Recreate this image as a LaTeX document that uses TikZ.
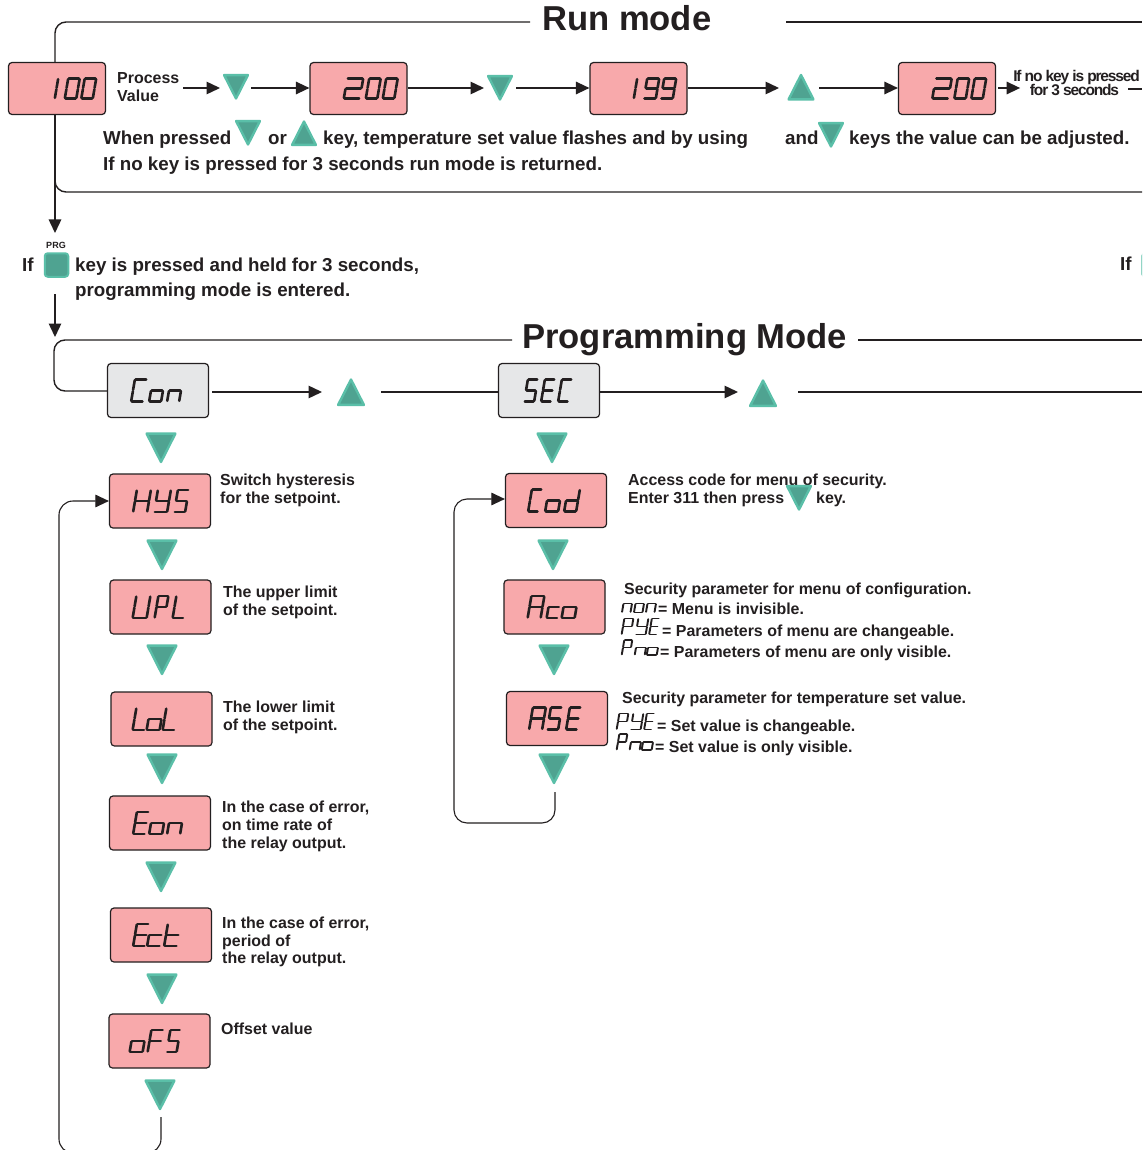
\documentclass[tikz,border=0pt]{standalone}
\usepackage{fontspec}
\setmainfont{Liberation Sans}
\usetikzlibrary{arrows.meta}
\definecolor{ink}{HTML}{231F20}
\definecolor{lcdpink}{HTML}{F8A9AB}
\definecolor{lcdgrey}{HTML}{E6E7E8}
\definecolor{keyfill}{HTML}{4FA391}
\definecolor{keyedge}{HTML}{5ABFA8}
% --- seven segment glyphs -------------------------------------------------
\def\sga{\draw[segline] (0,-\lcdH) -- (\lcdW,-\lcdH);}
\def\sgb{\draw[segline] (\lcdW,-\lcdH) -- (\lcdW,0);}
\def\sgc{\draw[segline] (\lcdW,0) -- (\lcdW,\lcdH);}
\def\sgd{\draw[segline] (0,\lcdH) -- (\lcdW,\lcdH);}
\def\sge{\draw[segline] (0,0) -- (0,\lcdH);}
\def\sgf{\draw[segline] (0,-\lcdH) -- (0,0);}
\def\sgg{\draw[segline] (0,0) -- (\lcdW,0);}
\def\segloop#1{\ifx#1\relax\else\csname sg#1\endcsname\expandafter\segloop\fi}
% \lcdword{anchor}{half height}{x/width/segments,...}
\newcommand\lcdword[3]{%
  \def\lcdH{#2}%
  \foreach \gx/\gw/\gs in {#3}{%
    \begin{scope}[shift={#1},shift={(\gx,0)},xslant=.17]
      \let\lcdW\gw
      \expandafter\segloop\gs\relax
    \end{scope}}}
\tikzset{
  segline/.style={line width=2.6pt,line cap=round,draw=ink,shorten >=.7pt,shorten <=.7pt},
  link/.style={draw=ink,line width=1.4pt},
  arr/.style={link,-{Triangle[length=13.5pt,width=12.5pt]}},
  lcdbox/.style={draw=ink,line width=1.2pt,rounded corners=3.5pt,fill=lcdpink,inner sep=0pt,
    minimum width=#1,text opacity=0,font=\fontsize{14}{14}\selectfont},
  runbox/.style={lcdbox=97pt,minimum height=52pt},
  probox/.style={lcdbox=101pt,minimum height=54pt},
  menubox/.style={probox,fill=lcdgrey},
  keybase/.style={minimum width=#1,minimum height=#1,inner sep=0pt},
  keyline/.style={fill=keyfill,draw=keyedge,line width=2.4pt,line join=round},
  keydown/.style={keybase=#1,path picture={
    \draw[keyline] ([xshift=1.6pt,yshift=-1.6pt]path picture bounding box.north west)
      -- ([xshift=-1.6pt,yshift=-1.6pt]path picture bounding box.north east)
      -- ([yshift=2pt]path picture bounding box.south) -- cycle;}},
  keyup/.style={keybase=#1,path picture={
    \draw[keyline] ([xshift=1.6pt,yshift=1.6pt]path picture bounding box.south west)
      -- ([xshift=-1.6pt,yshift=1.6pt]path picture bounding box.south east)
      -- ([yshift=-2pt]path picture bounding box.north) -- cycle;}},
  txt/.style={inner sep=0pt,anchor=base west,text=ink,font=\fontsize{18.75}{18.75}\selectfont\bfseries},
  lab/.style={txt,font=\fontsize{15.95}{15.95}\selectfont\bfseries},
  tight/.style={inner sep=0pt,anchor=base,text=ink,font=\fontsize{15.5}{15.5}\addfontfeature{LetterSpace=-7.5}\bfseries},
  title/.style={txt,font=\fontsize{34.6}{34.6}\selectfont\bfseries},
}
\begin{document}
\begin{tikzpicture}[x=1pt,y=-1pt]
\clip (0,0) rectangle (1142,1150);
\fill[white] (0,0) rectangle (1142,1150);

% ---------- Run mode row
\coordinate (rowR) at (0,88);
\node[runbox] (pv) at (57,88.5) {100};
\node[runbox] (s1) at (358.5,88.5) {200};
\node[runbox] (s2) at (638.5,88.5) {199};
\node[runbox] (s3) at (947,88.5) {200};
\node[lab,align=left,anchor=west] (pvt) at (117,87) {Process\\[2.5pt]Value};
\node[keydown=27pt] (k1) at (236,87) {};
\node[keydown=27pt] (k2) at (500,88) {};
\node[keyup=28pt] (k3) at (801,87) {};
\node[tight] (noa) at (1076.5,82) {If no key is pressed};
\node[tight] (nob) at (1074.5,96) {for 3 seconds};
\coordinate (rmgapL) at (530,22);
\coordinate (rmgapR) at (786,22);
\coordinate (edgeT) at (1142,22);
\coordinate (edgeB) at (1142,192);
\coordinate (arrA) at (183,88);
\coordinate (arrAe) at (220,88);
\coordinate (arrNo) at (1128,89);
\coordinate (arrNoE) at (1142,89);
\node[title] (rm) at (542,31) {Run mode};
\draw[link,rounded corners=11pt] (55,62) -- (55,22) -- (rmgapL);
\draw[link] (rmgapR) -- (edgeT);
\draw[link,rounded corners=11pt] (55,160) -- (55,192) -- (edgeB);
\draw[arr] (arrA) -- (arrAe);
\draw[arr] ([xshift=15pt]k1.center |- rowR) -- (s1.west |- rowR);
\draw[arr] (s1.east |- rowR) -- ([xshift=-16pt]k2.center |- rowR);
\draw[arr] ([xshift=16pt]k2.center |- rowR) -- (s2.west |- rowR);
\draw[arr] (s2.east |- rowR) -- ([xshift=-22pt]k3.center |- rowR);
\draw[arr] ([xshift=18pt]k3.center |- rowR) -- (s3.west |- rowR);
\draw[arr] ([xshift=2pt]s3.east |- rowR) -- ([xshift=24pt]s3.east |- rowR);
\draw[link] (arrNo) -- (arrNoE);

% ---------- run mode text
\node[txt] (t1a) at (103,145) {When pressed};
\node[keydown=27pt] (k4) at (248,133) {};
\node[txt] (t1b) at (268,145) {or};
\node[keyup=27pt] (k5) at (304,133) {};
\node[txt] (t1c) at (323,145) {key, temperature set value flashes and by using};
\node[txt] (t1d) at (785,145) {and};
\node[keydown=27pt] (k6) at (831,135) {};
\node[txt] (t1e) at (849,145) {keys the value can be adjusted.};
\node[txt] (t2) at (103,171) {If no key is pressed for 3 seconds run mode is returned.};

% ---------- PRG key
\node[inner sep=0pt,text=ink,font=\fontsize{9}{9}\selectfont\bfseries] (prg) at (56,245.5) {PRG};
\node[rounded corners=3pt,fill=keyfill,draw=keyedge,line width=2pt,minimum size=23.5pt,inner sep=0pt] (prgk) at (56.5,265) {};
\node[txt] (ifa) at (22,271) {If};
\node[txt] (p1) at (75,271) {key is pressed and held for 3 seconds,};
\node[txt] (p2) at (75,296) {programming mode is entered.};
\node[txt] (ifb) at (1120,270) {If};
\node[rounded corners=3pt,fill=keyfill,draw=keyedge,line width=2pt,minimum size=23.5pt,inner sep=0pt] (prgk2) at (1154,265) {};
\draw[arr] (pv.south -| 55,0) -- (55,233);
\draw[arr] (55,294) -- (55,337);

% ---------- Programming mode header
\coordinate (rowP) at (0,392);
\node[title] (pm) at (522,348) {Programming Mode};
\node[menubox] (con) at (158,390.5) {Con};
\node[menubox] (sec) at (549,390.5) {SEC};
\node[keyup=29pt] (u1) at (351,392) {};
\node[keyup=29pt] (u2) at (763,393) {};
\coordinate (pmL) at (512,340);
\coordinate (pmR) at (858,340);
\coordinate (pmE) at (1142,340);
\coordinate (conE) at (1142,392);
\draw[link] (pmR) -- (pmE);
\draw[link,rounded corners=11pt] (pmL) -- (54,340) -- (54,391) -- (con.west |- 0,391);
\draw[arr] ([xshift=3pt]con.east |- rowP) -- ([xshift=-29pt]u1.center |- rowP);
\draw[link] ([xshift=30pt]u1.center |- rowP) -- (sec.west |- rowP);
\draw[arr] (sec.east |- rowP) -- ([xshift=-25pt]u2.center |- rowP);
\draw[link] ([xshift=35pt]u2.center |- rowP) -- (conE);

% ---------- first column
\node[probox] (hys) at (160,501) {HYS};
\node[probox] (upl) at (160.5,607) {UPL};
\node[probox] (lol) at (161.5,719) {LoL};
\node[probox] (eon) at (160,823) {Eon};
\node[probox] (ect) at (161,935) {Ect};
\node[probox] (ofs) at (159.5,1041) {oFS};
\node[keydown=32pt] (d0) at (161,448) {};
\node[keydown=32pt] (d1) at (162,555) {};
\node[keydown=32pt] (d2) at (162,660) {};
\node[keydown=32pt] (d3) at (162,769) {};
\node[keydown=32pt] (d4) at (161,877) {};
\node[keydown=32pt] (d5) at (162,989) {};
\node[keydown=32pt] (d6) at (160,1095) {};
\draw[link,line width=1.1pt,rounded corners=14pt,-{Triangle[length=13.5pt,width=12.5pt]}]
  ([xshift=1pt,yshift=-6pt]d6.south) -- (161,1153) -- (59,1153) -- (59,501) -- (hys.west);
\node[lab] at (220,485) {Switch hysteresis};
\node[lab] at (220,503) {for the setpoint.};
\node[lab] at (223,597) {The upper limit};
\node[lab] at (223,615) {of the setpoint.};
\node[lab] at (223,712) {The lower limit};
\node[lab] at (223,730) {of the setpoint.};
\node[lab] at (222,812) {In the case of error,};
\node[lab] at (222,830) {on time rate of};
\node[lab] at (222,848) {the relay output.};
\node[lab] at (222,928) {In the case of error,};
\node[lab] at (222,946) {period of};
\node[lab] at (222,963) {the relay output.};
\node[lab] at (221,1034) {Offset value};

% ---------- second column
\node[probox] (cod) at (556,500.5) {Cod};
\node[probox] (aco) at (554.5,607) {Aco};
\node[probox] (ase) at (557,718.5) {ASE};
\node[keydown=32pt] (e0) at (552,448) {};
\node[keydown=32pt] (e1) at (553,555) {};
\node[keydown=32pt] (e2) at (554,660) {};
\node[keydown=32pt] (e3) at (554,769) {};
\draw[link,line width=1.1pt,rounded corners=13pt,-{Triangle[length=13.5pt,width=12.5pt]}]
  ([xshift=1pt,yshift=-7pt]e3.south) -- (555,823) -- (454,823) -- (454,499) -- (cod.west |- 0,499);
\node[lab] at (628,485) {Access code for menu of security.};
\node[lab] (en) at (628,503) {Enter 311 then press};
\node[keydown=27pt] (e4) at (799,498) {};
\node[lab] at (816,503) {key.};
\node[lab] at (624,594) {Security parameter for menu of configuration.};
\node[lab] at (658,614) {= Menu is invisible.};
\node[lab] at (662,636.5) {= Parameters of menu are changeable.};
\node[lab] at (660,657.5) {= Parameters of menu are only visible.};
\node[lab] at (622,703) {Security parameter for temperature set value.};
\node[lab] at (657,731.5) {= Set value is changeable.};
\node[lab] at (655,752.5) {= Set value is only visible.};

% ---------- seven segment faces
\lcdword{(pv.center)}{10}{-.5/0/ef,9.5/11.5/abcdef,26/11.5/abcdef}
\lcdword{(s1.center)}{10}{-13/16/abged,9/11.5/abcdef,26/11.5/abcdef}
\lcdword{(s2.center)}{10}{-3/0/ef,7/12/abcdfg,24/12/abcdfg}
\lcdword{(s3.center)}{10}{-13/16/abged,9/11.5/abcdef,26/11.5/abcdef}
\lcdword{(con.center)}{11}{-25/12/adef,-7/12/cdeg,11/12/ceg}
\lcdword{(sec.center)}{11}{-23/10/acdfg,-6/10/adefg,11/10/adef}
\lcdword{(hys.center)}{11}{-25/14/bcefg,-4/13/bcdfg,16/11/acdfg}
\lcdword{(upl.center)}{11}{-26/14/bcdef,-4/10/abefg,14/11/def}
\lcdword{(lol.center)}{11}{-27/12/def,-13/13/cdeg,3/12/def}
\lcdword{(eon.center)}{11}{-25/12/adefg,-9/13/cdeg,9/13/ceg}
\lcdword{(ect.center)}{11}{-26/12/adefg,-12/13/deg,5/13/defg}
\lcdword{(ofs.center)}{11}{-28/13/cdeg,-10/12/aefg,9/10/acdfg}
\lcdword{(cod.center)}{11}{-26/10/adef,-9/13/cdeg,10/12/bcdeg}
\lcdword{(aco.center)}{11}{-25/13/abcefg,-6/11/deg,9/13/cdeg}
\lcdword{(ase.center)}{11}{-26/13/abcefg,-8/11/acdfg,11/11/adefg}
\tikzset{segline/.append style={line width=1.9pt}}
\coordinate (nonO) at (623.5,603.5);
\coordinate (pyeA) at (623,626.5);
\coordinate (pnoA) at (623,647.5);
\coordinate (pyeB) at (618,721.5);
\coordinate (pnoB) at (618,742);
\lcdword{(nonO)}{9}{0/8.5/ceg,12/8.5/cdeg,24/8.5/ceg}
\lcdword{(pyeA)}{8}{0/9/abefg,14/10/bcdfg,27.5/7.5/adefg}
\lcdword{(pnoA)}{7.5}{0/8/abefg,13/10/ceg,25/10/cdeg}
\lcdword{(pyeB)}{8}{0/9/abefg,14/10/bcdfg,27.5/7.5/adefg}
\lcdword{(pnoB)}{8}{0/8/abefg,13/10/ceg,25/10/cdeg}
\end{tikzpicture}
\end{document}
